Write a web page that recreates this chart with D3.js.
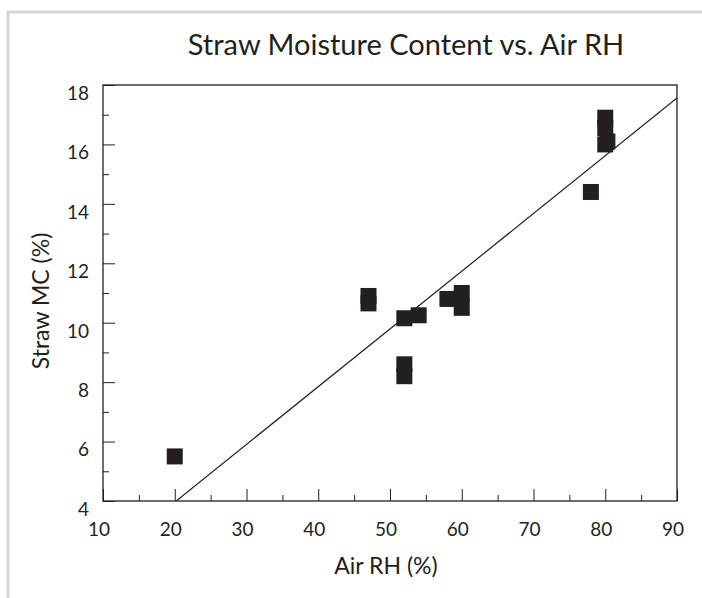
<!DOCTYPE html>
<html>
<head>
<meta charset="utf-8">
<script src="https://cdn.jsdelivr.net/npm/d3@7"></script>
<style>
  html, body { margin: 0; padding: 0; background: #fff; }
  svg { display: block; }
  text { font-family: "Lato", "Open Sans", sans-serif; fill: #231f20; }
</style>
</head>
<body>
<script>
// ---- data ----
const airRH    = [20, 47, 47, 52, 54, 52, 52, 58, 60, 60, 78, 80, 80.3, 80, 80];
const strawMC  = [5.5, 10.9, 10.65, 10.15, 10.25, 8.6, 8.2, 10.8, 11.0, 10.5, 14.4, 16.0, 16.1, 16.55, 16.9];
const xTicks   = [10, 20, 30, 40, 50, 60, 70, 80, 90];
const yTicks   = [4, 6, 8, 10, 12, 14, 16, 18];
const fitSlope = 0.1943;
const fitIntercept = 0.075;
const titleText = "Straw Moisture Content vs. Air RH";
const xLabel = "Air RH (%)";
const yLabel = "Straw MC (%)";

// ---- layout ----
const W = 702, H = 598;
const plot = { left: 103, right: 677, top: 85, bottom: 501 };

const svg = d3.select("body").append("svg").attr("width", W).attr("height", H);

// light frame
svg.append("path")
  .attr("d", `M8,${H} L8,12 L${W},12`)
  .attr("fill", "none").attr("stroke", "#d6d6d6").attr("stroke-width", 3);

const x = d3.scaleLinear().domain([10, 90]).range([plot.left, plot.right]);
const y = d3.scaleLinear().domain([4, 18]).range([plot.bottom, plot.top]);

// clip
svg.append("clipPath").attr("id", "clip").append("rect")
  .attr("x", plot.left).attr("y", plot.top)
  .attr("width", plot.right - plot.left).attr("height", plot.bottom - plot.top);

// y ticks (inward), major every 2, minor every 1
const yAxis = d3.axisRight(y).tickValues(d3.range(4, 18.01, 1)).tickFormat("").tickSizeOuter(0);
const gy = svg.append("g").attr("transform", `translate(${plot.left},0)`).call(yAxis);
gy.select(".domain").remove();
gy.selectAll(".tick line").attr("x2", d => d % 2 === 0 ? 12 : 6).attr("stroke", "#231f20").attr("stroke-width", 1);

// x ticks (inward), major every 10, minor every 5
const xAxis = d3.axisTop(x).tickValues(d3.range(10, 90.01, 5)).tickFormat("").tickSizeOuter(0);
const gx = svg.append("g").attr("transform", `translate(0,${plot.bottom})`).call(xAxis);
gx.select(".domain").remove();
gx.selectAll(".tick line").attr("y2", d => d % 10 === 0 ? -12 : -6).attr("stroke", "#231f20").attr("stroke-width", 1);

// tick labels
svg.append("g").selectAll("text").data(yTicks).join("text")
  .attr("x", 89).attr("y", d => y(d) + 10)
  .attr("text-anchor", "end").attr("dominant-baseline", "middle")
  .attr("font-size", 19).text(d => d);

svg.append("g").selectAll("text").data(xTicks).join("text")
  .attr("x", d => x(d) - 4).attr("y", plot.bottom + 30)
  .attr("text-anchor", "middle").attr("dominant-baseline", "middle")
  .attr("font-size", 19).text(d => d);

// regression line
svg.append("line")
  .attr("clip-path", "url(#clip)")
  .attr("x1", x(10)).attr("y1", y(fitIntercept + fitSlope * 10))
  .attr("x2", x(90)).attr("y2", y(fitIntercept + fitSlope * 90))
  .attr("stroke", "#231f20").attr("stroke-width", 1.2);

// markers
const S = 16;
svg.append("g").selectAll("rect").data(airRH.map((d, i) => [d, strawMC[i]])).join("rect")
  .attr("x", d => x(d[0]) - S / 2).attr("y", d => y(d[1]) - S / 2)
  .attr("width", S).attr("height", S).attr("fill", "#231f20");

// frame of plot
svg.append("rect")
  .attr("x", plot.left).attr("y", plot.top)
  .attr("width", plot.right - plot.left).attr("height", plot.bottom - plot.top)
  .attr("fill", "none").attr("stroke", "#231f20").attr("stroke-width", 1.3);

// title & axis labels
svg.append("text").attr("x", 406).attr("y", 48)
  .attr("text-anchor", "middle").attr("dominant-baseline", "middle")
  .attr("font-size", 29).text(titleText);

svg.append("text").attr("x", 386).attr("y", 568)
  .attr("text-anchor", "middle").attr("dominant-baseline", "middle")
  .attr("font-size", 23).text(xLabel);

svg.append("text").attr("transform", `translate(43,${(plot.top + plot.bottom) / 2 + 8}) rotate(-90)`)
  .attr("text-anchor", "middle").attr("dominant-baseline", "middle")
  .attr("font-size", 23).text(yLabel);
</script>
</body>
</html>
